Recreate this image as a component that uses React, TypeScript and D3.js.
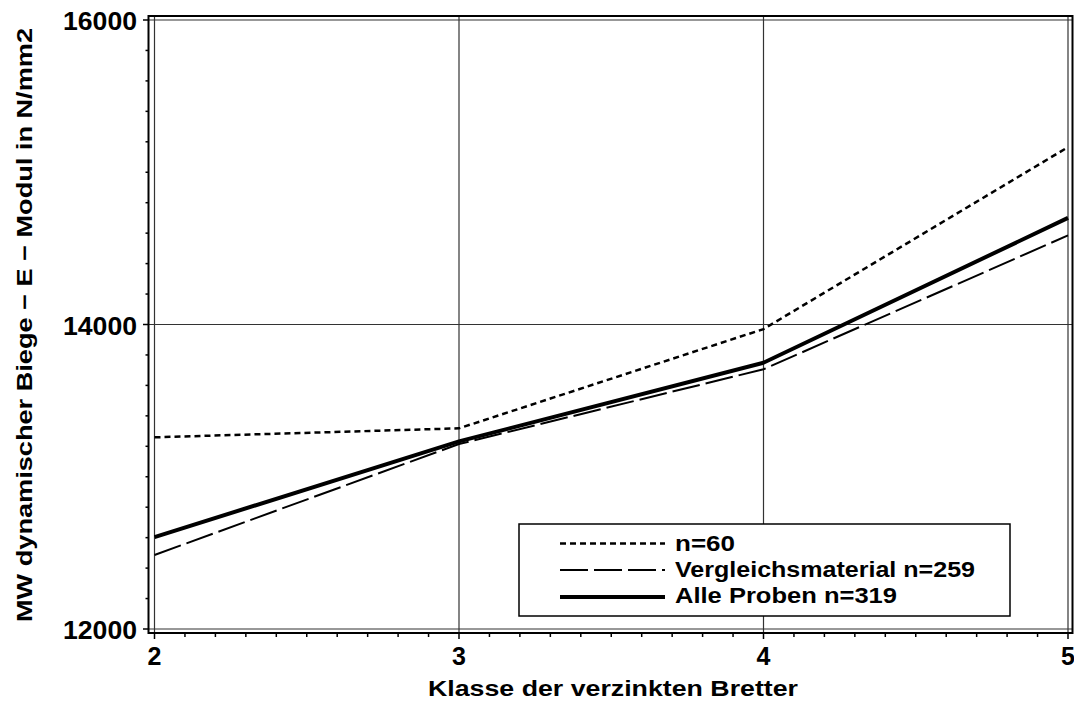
import React from "react";
import * as d3 from "d3";

const classes = [2, 3, 4, 5];
const seriesN60 = [13259, 13318, 13970, 15165];
const seriesVergleich = [12486, 13215, 13706, 14585];
const seriesAlle = [12604, 13232, 13749, 14700];
const yTicks = [12000, 14000, 16000];
const xTicks = [2, 3, 4, 5];
const legendLabels = ["n=60", "Vergleichsmaterial n=259", "Alle Proben n=319"];

const W = 1074;
const H = 707;
const FONT = "'Liberation Sans', Arial, Helvetica, sans-serif";

export default function App() {
  const x = d3.scaleLinear().domain([2, 5]).range([154.5, 1068]);
  const y = d3.scaleLinear().domain([12000, 16000]).range([629, 20]);
  const frame = { x0: 148.5, x1: 1072.5, y0: 16, y1: 633 };

  const line = d3
    .line<number>()
    .x((_, i) => x(classes[i]))
    .y((d) => y(d));

  const minorY = d3.range(12000, 16001, 200);
  const minorX = d3.range(20, 51).map((v) => v / 10);

  const series = [
    { data: seriesN60, dash: "6 4", width: 2.5 },
    { data: seriesVergleich, dash: "28 6", width: 2 },
    { data: seriesAlle, dash: "none", width: 4 },
  ];

  const legendRows = [543.5, 570, 597];
  const legendBase = [551, 577, 603];
  const legendWidths = [60, 300, 222];

  return (
    <svg width={W} height={H} style={{ position: "absolute", left: 0, top: 0, background: "#fff" }}>
      <rect x={0} y={0} width={W} height={H} fill="#fff" />
      {xTicks.map((t) => (
        <line key={"gx" + t} x1={x(t)} x2={x(t)} y1={frame.y0} y2={frame.y1} stroke="#333" strokeWidth={1.2} />
      ))}
      {yTicks.map((t) => (
        <line key={"gy" + t} x1={frame.x0} x2={frame.x1} y1={y(t)} y2={y(t)} stroke="#333" strokeWidth={1.2} />
      ))}
      <rect x={frame.x0} y={frame.y0} width={frame.x1 - frame.x0} height={frame.y1 - frame.y0} fill="none" stroke="#000" strokeWidth={2} />
      {minorY.map((t) => {
        const major = t % 2000 === 0;
        return (
          <line key={"ty" + t} x1={major ? 143 : 145.5} x2={frame.x0} y1={y(t)} y2={y(t)} stroke="#000" strokeWidth={1.5} />
        );
      })}
      {yTicks.map((t) => (
        <text key={"ly" + t} x={137} y={y(t) + 10} textAnchor="end" fontFamily={FONT} fontWeight="bold" fontSize={25} textLength={74} lengthAdjust="spacingAndGlyphs">
          {t}
        </text>
      ))}
      {minorX.map((t, i) => {
        const major = i % 10 === 0;
        return (
          <line key={"tx" + i} x1={x(t)} x2={x(t)} y1={frame.y1} y2={major ? 639 : 637} stroke="#000" strokeWidth={1.5} />
        );
      })}
      {xTicks.map((t) => (
        <text key={"lx" + t} x={x(t)} y={665} textAnchor="middle" fontFamily={FONT} fontWeight="bold" fontSize={25}>
          {t}
        </text>
      ))}
      {series.map((s, i) => (
        <path
          key={"s" + i}
          d={line(s.data) || ""}
          fill="none"
          stroke="#000"
          strokeWidth={s.width}
          strokeDasharray={s.dash}
        />
      ))}
      <text x={613} y={696} textAnchor="middle" fontFamily={FONT} fontWeight="bold" fontSize={22} textLength={370} lengthAdjust="spacingAndGlyphs">
        Klasse der verzinkten Bretter
      </text>
      <text
        transform="translate(32,325) rotate(-90)"
        textAnchor="middle"
        fontFamily={FONT}
        fontWeight="bold"
        fontSize={22}
        textLength={594}
        lengthAdjust="spacingAndGlyphs"
      >
        MW dynamischer Biege − E − Modul in N/mm2
      </text>
      <rect x={519} y={524} width={491} height={92} fill="#fff" stroke="#000" strokeWidth={1.5} />
      {series.map((s, i) => (
        <line
          key={"ll" + i}
          x1={560}
          x2={665}
          y1={legendRows[i]}
          y2={legendRows[i]}
          stroke="#000"
          strokeWidth={s.width}
          strokeDasharray={s.dash}
        />
      ))}
      {legendLabels.map((l, i) => (
        <text key={"lt" + i} x={675} y={legendBase[i]} fontFamily={FONT} fontWeight="bold" fontSize={22} textLength={legendWidths[i]} lengthAdjust="spacingAndGlyphs">
          {l}
        </text>
      ))}
    </svg>
  );
}
